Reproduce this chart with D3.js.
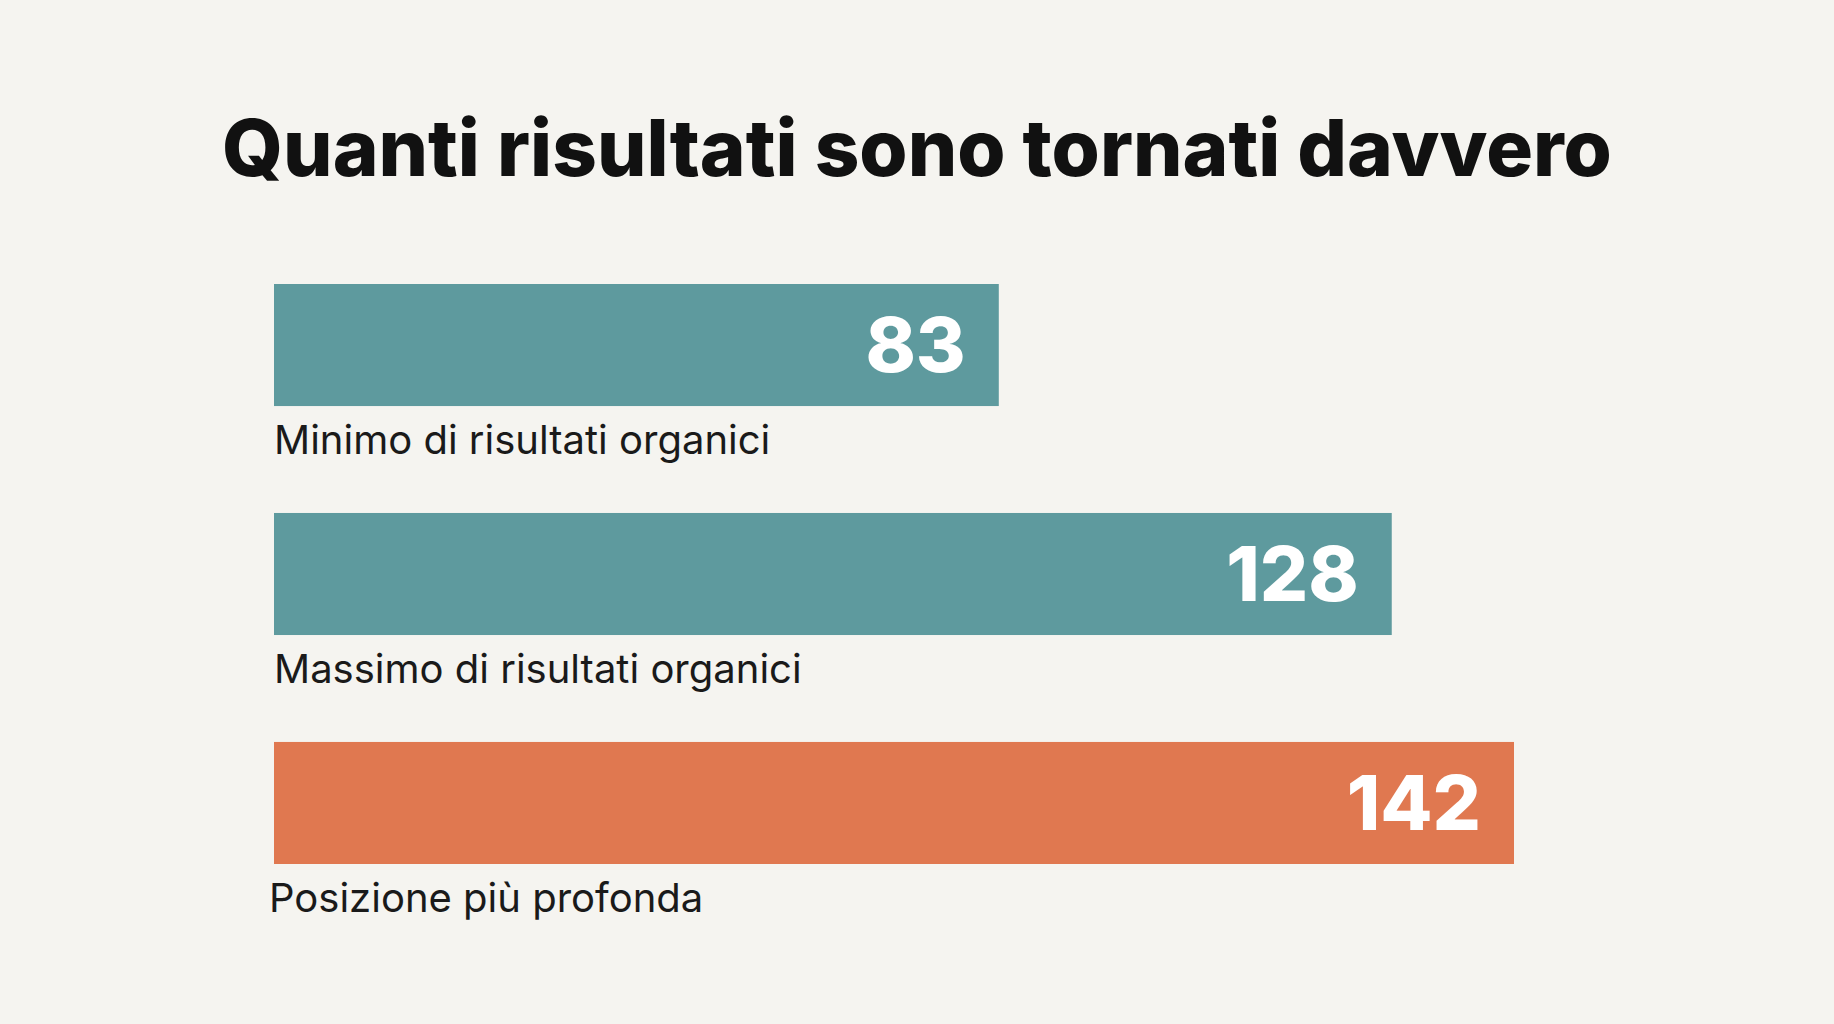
<!DOCTYPE html>
<html><head><meta charset="utf-8">
<script src="https://cdn.jsdelivr.net/npm/d3@7"></script>
<style>body{margin:0;background:#f5f4f0;}</style>
</head><body><svg id="c" width="1834" height="1024"></svg>
<script>
const categories = ["Minimo di risultati organici", "Massimo di risultati organici", "Posizione più profonda"];
const values = [83, 128, 142];
const colors = ["#5e9a9e", "#5e9a9e", "#e07850"];
const title = "Quanti risultati sono tornati davvero";

const svg = d3.select("#c");
svg.append("rect").attr("width",1834).attr("height",1024).attr("fill","#f5f4f0");
svg.append("text").attr("x",917).attr("y",176).attr("text-anchor","middle")
  .attr("font-family","Inter, 'Open Sans', sans-serif").attr("font-weight",800)
  .attr("font-size",78).attr("fill","#111").text(title);

const x = d3.scaleLinear().domain([0,142]).range([274,1514]);
const y = d3.scaleBand().domain(categories).range([284,864]).paddingInner(0.467).paddingOuter(0);
const g = svg.selectAll("g.bar").data(categories).join("g");
g.append("rect").attr("x",x(0)).attr("y",d=>y(d)).attr("height",y.bandwidth())
  .attr("width",(d,i)=>x(values[i])-x(0)).attr("fill",(d,i)=>colors[i]);
g.append("text").attr("x",(d,i)=>x(values[i])-33).attr("y",d=>y(d)+y.bandwidth()/2+27)
  .attr("text-anchor","end").attr("font-family","Inter, 'Open Sans', sans-serif")
  .attr("font-weight",800).attr("font-size",76).attr("fill","#fff").text((d,i)=>values[i]);
g.append("text").attr("x",(d,i)=>i==2?269:274).attr("y",d=>y(d)+y.bandwidth()+48)
  .attr("font-family","Inter, 'Open Sans', sans-serif").attr("font-size",40).attr("fill","#1a1a1a").text(d=>d);
</script></body></html>
